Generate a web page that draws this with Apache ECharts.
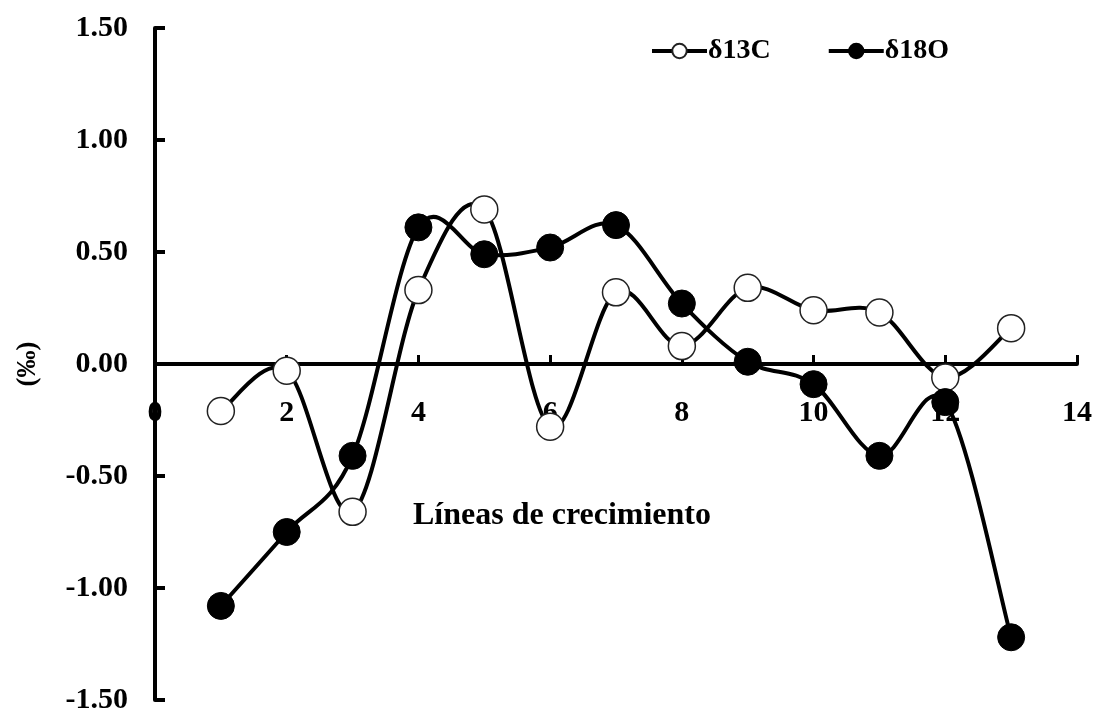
<!DOCTYPE html>
<html>
<head>
<meta charset="utf-8">
<script src="https://cdn.jsdelivr.net/npm/echarts@6/dist/echarts.min.js"></script>
<style>html,body{margin:0;padding:0;background:#fff}#c{width:1095px;height:711px}</style>
</head>
<body>
<div id="c"></div>
<script>
var xValues = [1, 2, 3, 4, 5, 6, 7, 8, 9, 10, 11, 12, 13];
var d13C = [-0.21, -0.03, -0.66, 0.33, 0.69, -0.28, 0.32, 0.08, 0.34, 0.24, 0.23, -0.06, 0.16];
var d18O = [-1.08, -0.75, -0.41, 0.61, 0.49, 0.52, 0.62, 0.27, 0.01, -0.09, -0.41, -0.17, -1.22];
var seriesNames = ['δ13C', 'δ18O'];
var xTitle = 'Líneas de crecimiento';
var yTitle = '(‰)';

function pairs(xs, ys) { return xs.map(function (x, i) { return [x, ys[i]]; }); }

// Smoothed (Catmull-Rom style, like a spreadsheet "smoothed line") segment from point i to i+1,
// positioned through the chart's own coordinate system.
function smoothSegment(ys) {
  return function (params, api) {
    var i = params.dataIndex;
    var n = xValues.length;
    if (i >= n - 1) return null;
    function P(k) { k = Math.max(0, Math.min(n - 1, k)); return api.coord([xValues[k], ys[k]]); }
    var p0 = P(i - 1), p1 = P(i), p2 = P(i + 1), p3 = P(i + 2);
    return {
      type: 'bezierCurve',
      shape: {
        x1: p1[0], y1: p1[1], x2: p2[0], y2: p2[1],
        cpx1: p1[0] + (p2[0] - p0[0]) / 6, cpy1: p1[1] + (p2[1] - p0[1]) / 6,
        cpx2: p2[0] - (p3[0] - p1[0]) / 6, cpy2: p2[1] - (p3[1] - p1[1]) / 6
      },
      style: {stroke: '#000', lineWidth: 4, fill: null}
    };
  };
}

var FONT = '"Liberation Serif", "Times New Roman", serif';
var chart = echarts.init(document.getElementById('c'), null, {renderer: 'canvas'});
chart.setOption({
  animation: false,
  backgroundColor: '#fff',
  grid: {left: 155, right: 18, top: 28, bottom: 11, containLabel: false, outerBoundsMode: 'none'},
  title: {
    text: xTitle, left: 408, top: 495,
    textStyle: {fontFamily: FONT, fontWeight: 'bold', fontSize: 32, color: '#000'}
  },
  legend: {
    data: seriesNames, left: 645, top: 32, itemGap: 56, itemWidth: 55, itemHeight: 18,
    lineStyle: {width: 4, color: '#000', opacity: 1},
    textStyle: {fontFamily: FONT, fontWeight: 'bold', fontSize: 28, color: '#000', padding: [0, 0, 0, -4]}
  },
  xAxis: {
    type: 'value', min: 0, max: 14, interval: 2, position: 'bottom', offset: -336,
    axisLine: {onZero: false, lineStyle: {color: '#000', width: 4}},
    axisTick: {inside: true, length: 9, lineStyle: {color: '#000', width: 3}},
    axisLabel: {margin: 34, fontFamily: FONT, fontWeight: 'bold', fontSize: 30, color: '#000'},
    splitLine: {show: false}, z: 1
  },
  yAxis: {
    type: 'value', min: -1.5, max: 1.5, interval: 0.5,
    name: yTitle, nameLocation: 'middle', nameGap: 113, nameRotate: 90,
    nameTextStyle: {fontFamily: FONT, fontWeight: 'bold', fontSize: 27, color: '#000'},
    axisLine: {show: true, lineStyle: {color: '#000', width: 4}},
    axisTick: {show: true, inside: true, length: 10, lineStyle: {color: '#000', width: 4}},
    axisLabel: {margin: 27, fontFamily: FONT, fontWeight: 'bold', fontSize: 30, color: '#000',
      formatter: function (v) { return v.toFixed(2); }},
    splitLine: {show: false}, z: 2
  },
  series: [
    {
      name: seriesNames[0] + ' line', type: 'custom', data: pairs(xValues, d13C),
      renderItem: smoothSegment(d13C), z: 3, silent: true
    },
    {
      name: seriesNames[0], type: 'line', data: pairs(xValues, d13C),
      symbol: 'circle', symbolSize: 27,
      lineStyle: {color: '#000', width: 0},
      itemStyle: {color: '#fff', borderColor: '#222', borderWidth: 1.5}, z: 4
    },
    {
      name: seriesNames[1] + ' line', type: 'custom', data: pairs(xValues, d18O),
      renderItem: smoothSegment(d18O), z: 5, silent: true
    },
    {
      name: seriesNames[1], type: 'line', data: pairs(xValues, d18O),
      symbol: 'circle', symbolSize: 27,
      lineStyle: {color: '#000', width: 0},
      itemStyle: {color: '#000', borderColor: '#000', borderWidth: 1}, z: 6
    }
  ]
});
</script>
</body>
</html>
